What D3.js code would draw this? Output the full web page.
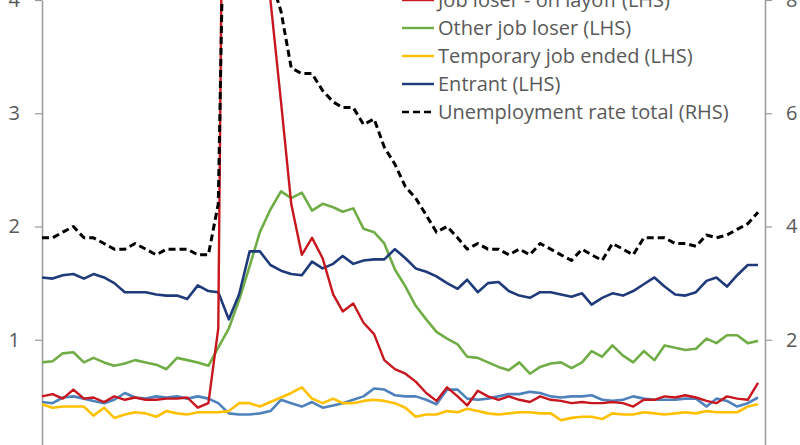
<!DOCTYPE html>
<html>
<head>
<meta charset="utf-8">
<script src="https://cdn.jsdelivr.net/npm/d3@7"></script>
<style>
  html, body { margin: 0; padding: 0; background: #fff; }
  svg { display: block; }
  text { font-family: "Open Sans", "Noto Sans", sans-serif; fill: #595959; }
</style>
</head>
<body>
<svg id="chart" width="800" height="445"></svg>
<script>
// ---- Data (monthly, Oct 2018 – Jul 2024), % of labour force ----
const startMonth = new Date(2018, 9, 1);
const endMonth = new Date(2024, 7, 1);
const months = d3.timeMonth.range(startMonth, endMonth);

const jobLeaver = [0.45,0.44,0.49,0.50,0.48,0.46,0.44,0.47,0.53,0.49,0.48,0.50,0.49,0.50,0.48,0.50,0.48,0.44,0.35,0.34,
  0.34,0.35,0.37,0.47,0.44,0.41,0.45,0.40,0.42,0.44,0.47,0.50,0.57,0.56,0.51,0.50,0.50,0.47,0.43,0.56,
  0.56,0.48,0.47,0.48,0.50,0.52,0.52,0.54,0.53,0.50,0.49,0.50,0.50,0.51,0.47,0.46,0.47,0.50,0.48,0.47,
  0.47,0.47,0.48,0.48,0.41,0.48,0.46,0.41,0.44,0.49];

const layoff = [0.50,0.52,0.48,0.56,0.48,0.49,0.45,0.50,0.47,0.49,0.47,0.47,0.48,0.48,0.49,0.40,0.44,1.10,11.3,9.4,
  6.6,5.7,4.0,3.1,2.2,1.75,1.90,1.72,1.40,1.25,1.32,1.15,1.05,0.82,0.74,0.70,0.63,0.53,0.46,0.58,
  0.50,0.42,0.55,0.50,0.47,0.50,0.47,0.45,0.50,0.47,0.46,0.44,0.45,0.44,0.44,0.45,0.44,0.41,0.47,0.47,
  0.50,0.49,0.51,0.49,0.46,0.44,0.50,0.48,0.47,0.62];

const otherLoser = [0.80,0.81,0.88,0.89,0.80,0.84,0.80,0.77,0.79,0.82,0.80,0.78,0.74,0.84,0.82,0.80,0.77,0.93,1.10,1.35,
  1.65,1.95,2.15,2.31,2.25,2.30,2.14,2.20,2.17,2.13,2.16,1.98,1.95,1.85,1.62,1.47,1.30,1.18,1.07,1.01,
  0.96,0.85,0.84,0.80,0.76,0.73,0.80,0.70,0.76,0.79,0.80,0.75,0.80,0.90,0.85,0.95,0.86,0.80,0.90,0.82,
  0.95,0.93,0.91,0.92,1.01,0.97,1.04,1.04,0.97,0.99];

const tempEnded = [0.43,0.40,0.41,0.41,0.41,0.33,0.40,0.31,0.34,0.36,0.35,0.32,0.37,0.35,0.34,0.36,0.36,0.36,0.37,0.44,
  0.44,0.41,0.45,0.49,0.53,0.58,0.48,0.44,0.48,0.44,0.44,0.46,0.47,0.46,0.44,0.40,0.32,0.34,0.34,0.37,
  0.36,0.39,0.37,0.35,0.34,0.35,0.36,0.36,0.35,0.35,0.29,0.31,0.32,0.32,0.30,0.35,0.34,0.34,0.36,0.35,
  0.34,0.35,0.36,0.35,0.37,0.36,0.36,0.36,0.41,0.43];

const entrant = [1.55,1.54,1.57,1.58,1.54,1.58,1.55,1.50,1.42,1.42,1.42,1.40,1.39,1.39,1.36,1.48,1.43,1.42,1.18,1.40,
  1.78,1.78,1.66,1.61,1.58,1.57,1.69,1.63,1.67,1.74,1.67,1.70,1.71,1.71,1.80,1.72,1.63,1.60,1.56,1.50,
  1.45,1.53,1.42,1.50,1.51,1.43,1.39,1.37,1.42,1.42,1.40,1.38,1.41,1.31,1.37,1.41,1.39,1.43,1.49,1.55,
  1.47,1.40,1.39,1.42,1.52,1.55,1.47,1.57,1.66,1.66];

// Unemployment rate total (RHS, %)
const unempRate = [3.8,3.8,3.9,4.0,3.8,3.8,3.7,3.6,3.6,3.7,3.6,3.5,3.6,3.6,3.6,3.5,3.5,4.4,14.8,13.2,
  11.0,10.2,8.4,7.8,6.8,6.7,6.7,6.4,6.2,6.1,6.1,5.8,5.9,5.4,5.1,4.7,4.5,4.2,3.9,4.0,
  3.8,3.6,3.7,3.6,3.6,3.5,3.6,3.5,3.7,3.6,3.5,3.4,3.6,3.5,3.4,3.7,3.6,3.5,3.8,3.8,
  3.8,3.7,3.7,3.65,3.85,3.8,3.85,3.95,4.05,4.25];

const leftTicks = [1, 2, 3, 4];
const rightTicks = [2, 4, 6, 8];

const legendNames = ["Job loser - on layoff (LHS)", "Other job loser (LHS)",
  "Temporary job ended (LHS)", "Entrant (LHS)", "Unemployment rate total (RHS)"];

// ---- Drawing ----
const svg = d3.select("#chart");
const W = 800, H = 445;
const xLeft = 42, xRight = 765;

const x = d3.scaleTime().domain([months[0], months[months.length - 1]]).range([42, 758]);
const yL = d3.scaleLinear().domain([0, 4]).range([453, 0]);
const yR = d3.scaleLinear().domain([0, 8]).range([453, 0]);

const axisColor = "#9a9a9a";

// left axis
const gL = svg.append("g").attr("transform", `translate(${xLeft},0)`)
  .call(d3.axisLeft(yL).tickValues(leftTicks).tickSize(7).tickPadding(15).tickSizeOuter(0).tickFormat(d3.format("d")));
gL.select(".domain").attr("stroke", axisColor).attr("stroke-width", 1.5);
gL.selectAll(".tick line").attr("stroke", axisColor).attr("stroke-width", 1.2);
gL.selectAll(".tick text").attr("font-size", 20).attr("fill", "#595959")
  .style("font-family", '"Open Sans", "Noto Sans", sans-serif');

// right axis
const gR = svg.append("g").attr("transform", `translate(${xRight},0)`)
  .call(d3.axisRight(yR).tickValues(rightTicks).tickSize(7).tickPadding(14).tickSizeOuter(0).tickFormat(d3.format("d")));
gR.select(".domain").attr("stroke", axisColor).attr("stroke-width", 1.5);
gR.selectAll(".tick line").attr("stroke", axisColor).attr("stroke-width", 1.2);
gR.selectAll(".tick text").attr("font-size", 20).attr("fill", "#595959")
  .style("font-family", '"Open Sans", "Noto Sans", sans-serif');

svg.append("defs").append("clipPath").attr("id", "plotclip")
  .append("rect").attr("x", 0).attr("y", -5).attr("width", W).attr("height", H + 10);

const plot = svg.append("g").attr("clip-path", "url(#plotclip)");

const lineL = d3.line().x((d, i) => x(months[i])).y(d => yL(d));
const lineR = d3.line().x((d, i) => x(months[i])).y(d => yR(d));

const styles = [
  { data: jobLeaver, color: "#4F81BD", w: 2.6, line: lineL },
  { data: tempEnded, color: "#FFC000", w: 2.6, line: lineL },
  { data: otherLoser, color: "#70AD47", w: 2.6, line: lineL },
  { data: entrant, color: "#1F3A7A", w: 2.6, line: lineL },
  { data: layoff, color: "#C8161E", w: 2.4, line: lineL },
  { data: unempRate, color: "#000000", w: 3, line: lineR, dash: "7,4" }
];

styles.forEach(s => {
  plot.append("path")
    .attr("d", s.line(s.data))
    .attr("fill", "none")
    .attr("stroke", s.color)
    .attr("stroke-width", s.w)
    .attr("stroke-linejoin", "round")
    .attr("stroke-dasharray", s.dash || null);
});

// legend
const legendColors = ["#C8161E", "#70AD47", "#FFC000", "#1F3A7A", "#000000"];
const lg = svg.append("g");
legendNames.forEach((name, i) => {
  const yy = i * 28;
  lg.append("line")
    .attr("x1", 402).attr("x2", 434).attr("y1", yy).attr("y2", yy)
    .attr("stroke", legendColors[i])
    .attr("stroke-width", i === 4 ? 2.6 : 2.4)
    .attr("stroke-dasharray", i === 4 ? "7,4" : null);
  lg.append("text")
    .attr("x", 438).attr("y", yy)
    .attr("dy", "0.35em")
    .attr("font-size", 20)
    .text(name);
});
</script>
</body>
</html>
